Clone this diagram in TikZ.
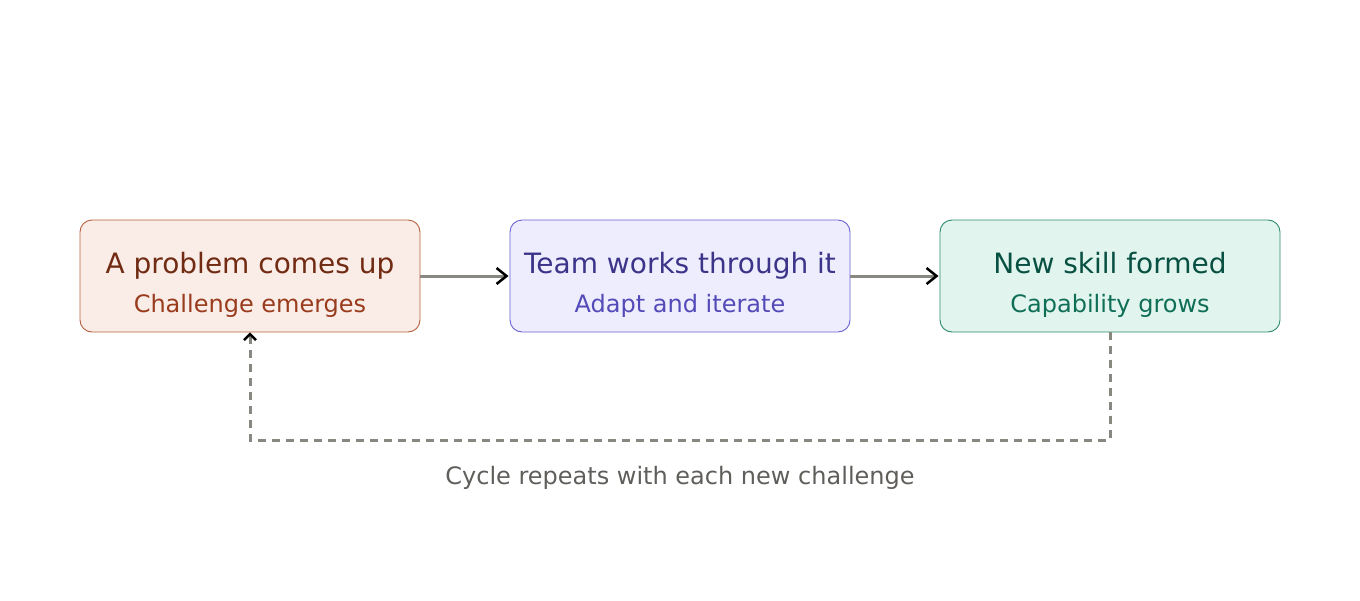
\documentclass[tikz,border=0pt]{standalone}
\usepackage{fontspec}
\setmainfont{DejaVu Sans}
\usetikzlibrary{arrows.meta}
\definecolor{pfill}{HTML}{FAECE7}\definecolor{pdraw}{HTML}{B5603F}
\definecolor{ptitle}{HTML}{712B13}\definecolor{psub}{HTML}{993C1D}
\definecolor{tfill}{HTML}{EEEDFE}\definecolor{tdraw}{HTML}{6A60D0}
\definecolor{ttitle}{HTML}{3C3489}\definecolor{tsub}{HTML}{534AB7}
\definecolor{nfill}{HTML}{E1F5EE}\definecolor{ndraw}{HTML}{2E8A6C}
\definecolor{ntitle}{HTML}{085041}\definecolor{nsub}{HTML}{0F6E56}
\definecolor{lgray}{HTML}{888780}\definecolor{labgray}{HTML}{5F5E5A}
\tikzset{
  stagebox/.style={rounded corners=12pt, line width=0.9pt, minimum width=340pt, minimum height=112pt, inner sep=0pt},
  titletext/.style={font=\fontsize{28}{32}\selectfont, anchor=base, inner sep=0pt},
  subtext/.style={font=\fontsize{24}{28}\selectfont, anchor=base, inner sep=0pt},
  flow/.style={draw=lgray, line width=3pt, -{Straight Barb[color=black, length=10pt, width=16pt, line width=2.5pt]}, shorten >=1pt},
  loopline/.style={draw=lgray, line width=3pt, dash pattern=on 8pt off 6pt, -{Straight Barb[color=black, length=6pt, width=12pt, line width=2.5pt]}}
}
\begin{document}
\begin{tikzpicture}[x=1pt,y=-1pt]
\useasboundingbox (0,0) rectangle (1360,600);
\node[stagebox, fill=pfill, draw=pdraw] (p) at (250,276) {};
\node[stagebox, fill=tfill, draw=tdraw] (t) at (680,276) {};
\node[stagebox, fill=nfill, draw=ndraw] (n) at (1110,276) {};
\node[titletext, text=ptitle] (pt) at (250,273) {A problem comes up};
\node[subtext, text=psub] (ps) at (250,312) {Challenge emerges};
\node[titletext, text=ttitle] (tt) at (680,273) {Team works through it};
\node[subtext, text=tsub] (ts) at (680,312) {Adapt and iterate};
\node[titletext, text=ntitle] (nt) at (1110,273) {New skill formed};
\node[subtext, text=nsub] (ns) at (1110,312) {Capability grows};
\draw[flow] (p.east) -- (t.west);
\draw[flow] (t.east) -- (n.west);
\coordinate (c1) at (1110,440);
\coordinate (c2) at (250,440);
\draw[loopline] (n.south) -- (c1) -- (c2) -- (p.south);
\node[subtext, text=labgray] (lab) at (680,484) {Cycle repeats with each new challenge};
\end{tikzpicture}
\end{document}
